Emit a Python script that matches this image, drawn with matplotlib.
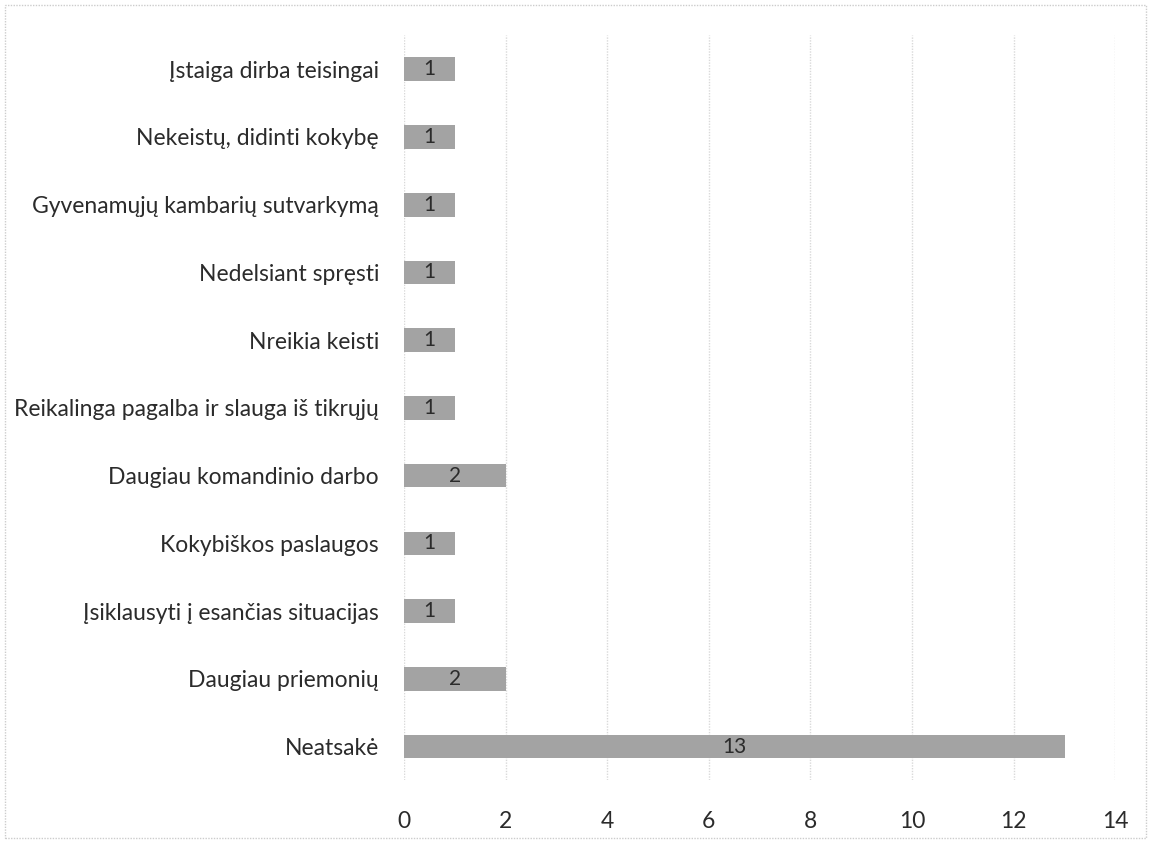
import matplotlib.pyplot as plt
from matplotlib.patches import Rectangle

# =========================================
# DATA
# =========================================

categories = [
    "Neatsakė",
    "Daugiau priemonių",
    "Įsiklausyti į esančias situacijas",
    "Kokybiškos paslaugos",
    "Daugiau komandinio darbo",
    "Reikalinga pagalba ir slauga iš tikrųjų",
    "Nreikia keisti",
    "Nedelsiant spręsti",
    "Gyvenamųjų kambarių sutvarkymą",
    "Nekeistų, didinti kokybę",
    "Įstaiga dirba teisingai",
]
values = [13, 2, 1, 1, 2, 1, 1, 1, 1, 1, 1]
x_ticks = [0, 2, 4, 6, 8, 10, 12, 14]

plt.rcParams["font.family"] = ["Lato", "DejaVu Sans"]

fig = plt.figure(figsize=(11.51, 8.41), dpi=100)
ax = fig.add_axes([0.351, 0.072, 0.618, 0.886])

ypos = list(range(len(categories)))
bars = ax.barh(ypos, values, height=0.35, color="#a3a3a3", zorder=3)

for b, v in zip(bars, values):
    ax.text(
        b.get_width() / 2,
        b.get_y() + b.get_height() / 2,
        str(v),
        ha="center",
        va="center",
        fontsize=15,
        color="#2b2b2b",
        zorder=4,
    )

ax.set_xlim(0, 14)
ax.set_ylim(-0.5, len(categories) - 0.5)
ax.set_xticks(x_ticks)
ax.set_yticks(ypos)
ax.set_yticklabels(categories)

ax.grid(axis="x", color="#d9d9d9", linewidth=1, linestyle=(0, (1, 1)), zorder=0)
for s in ax.spines.values():
    s.set_visible(False)

ax.tick_params(axis="both", length=0, labelsize=16.5, colors="#2b2b2b")
ax.tick_params(axis="y", pad=18)
ax.tick_params(axis="x", pad=22)

# borde del grafico
fig.patches.append(
    Rectangle((0.004, 0.004), 0.992, 0.99, transform=fig.transFigure,
              fill=False, edgecolor="#cccccc", linewidth=1, linestyle=(0, (1, 1)))
)

plt.savefig("out.png", dpi=100)
